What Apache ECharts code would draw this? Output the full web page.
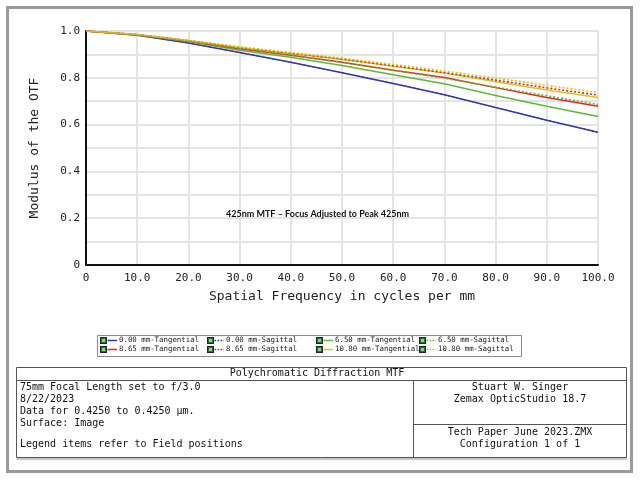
<!DOCTYPE html>
<html>
<head>
<meta charset="utf-8">
<script src="https://cdn.jsdelivr.net/npm/echarts@6/dist/echarts.min.js"></script>
<style>
html,body{margin:0;padding:0;background:#fff;}
#chart{width:640px;height:480px;}
</style>
</head>
<body>
<div id="chart"></div>
<script>
// ---- data ----
var freq = [0, 10, 20, 30, 40, 50, 60, 70, 80, 90, 100];
var names = ['0.00 mm-Tangential','0.00 mm-Sagittal','6.50 mm-Tangential','6.50 mm-Sagittal',
             '8.65 mm-Tangential','8.65 mm-Sagittal','10.80 mm-Tangential','10.80 mm-Sagittal'];
var t000 = [1.000, 0.982, 0.949, 0.908, 0.866, 0.822, 0.776, 0.728, 0.673, 0.619, 0.567];
var s000 = [1.000, 0.982, 0.949, 0.908, 0.866, 0.822, 0.776, 0.728, 0.673, 0.619, 0.567];
var t650 = [1.000, 0.983, 0.955, 0.918, 0.888, 0.853, 0.813, 0.775, 0.724, 0.678, 0.635];
var s650 = [1.000, 0.984, 0.958, 0.926, 0.897, 0.866, 0.832, 0.798, 0.760, 0.723, 0.686];
var t865 = [1.000, 0.984, 0.957, 0.924, 0.896, 0.866, 0.832, 0.801, 0.758, 0.716, 0.678];
var s865 = [1.000, 0.985, 0.959, 0.930, 0.905, 0.880, 0.852, 0.822, 0.790, 0.757, 0.726];
var t1080 = [1.000, 0.985, 0.958, 0.929, 0.904, 0.879, 0.849, 0.820, 0.783, 0.748, 0.716];
var s1080 = [1.000, 0.985, 0.960, 0.932, 0.908, 0.884, 0.857, 0.829, 0.799, 0.768, 0.737];
var seriesValues = [t000, s000, t650, s650, t865, s865, t1080, s1080];
var colors = ['#3636a4','#3636a4','#5cb83a','#5cb83a','#e8231e','#e8231e','#d6c622','#d6c622'];
var dotted = [false, true, false, true, false, true, false, true];
var zOrder = [3, 2, 3, 4, 3, 4, 3, 4];

var mono = '"DejaVu Sans Mono", "Liberation Mono", monospace';

function pairs(vals){ return freq.map(function(f,i){ return [f, vals[i]]; }); }

function iconFor(i){
  var dash = dotted[i] ? ' stroke-dasharray="1.5,1.5"' : '';
  var svg = '<svg xmlns="http://www.w3.org/2000/svg" width="17" height="7">' +
    '<rect x="0.5" y="0.5" width="6" height="6" fill="#2f6f2f" stroke="#1b2b1b" stroke-width="1"/>' +
    '<rect x="2" y="2" width="3" height="3" fill="#8fd08f"/>' +
    '<line x1="7.5" y1="3.5" x2="17" y2="3.5" stroke="' + colors[i] + '" stroke-width="1.5"' + dash + '/>' +
    '</svg>';
  return 'image://data:image/svg+xml;charset=utf-8,' + encodeURIComponent(svg);
}

var series = seriesValues.map(function(vals, i){
  return {
    name: names[i],
    type: 'line',
    data: pairs(vals),
    symbol: 'none',
    smooth: false,
    z: zOrder[i],
    lineStyle: { color: colors[i], width: i === 1 ? 1.0 : (dotted[i] ? 1.6 : 1.5), type: dotted[i] ? [2, 2] : 'solid' },
    itemStyle: { color: colors[i] }
  };
});

var colX = [100, 207, 316, 419];
var rowY = [337, 346];
var legends = names.map(function(n, i){
  var row = Math.floor(i / 4), col = i % 4;
  return {
    left: colX[col], top: rowY[row],
    padding: 0,
    itemWidth: 17, itemHeight: 7, itemGap: 0,
    selectedMode: false,
    data: [{ name: n, icon: iconFor(i) }],
    textStyle: { fontFamily: mono, fontSize: 7.4, color: '#222', padding: [0,0,0,-3] }
  };
});

var chart = echarts.init(document.getElementById('chart'), null, { renderer: 'canvas' });
chart.setOption({
  backgroundColor: '#ffffff',
  animation: false,
  grid: { left: 86, right: 42, top: 31, bottom: 215 },
  legend: legends,
  xAxis: {
    type: 'value', min: 0, max: 100, interval: 10,
    name: 'Spatial Frequency in cycles per mm',
    nameLocation: 'middle', nameGap: 25,
    nameTextStyle: { fontFamily: mono, fontSize: 13, color: '#222' },
    axisLine: { show: true, onZero: false, lineStyle: { color: '#111', width: 2 } },
    axisTick: { show: false },
    axisLabel: { fontFamily: mono, fontSize: 11, color: '#222', margin: 8,
      formatter: function(v){ return v === 0 ? '0' : v.toFixed(1); } },
    splitLine: { show: true, lineStyle: { color: '#e4e4e4', width: 2 } }
  },
  yAxis: {
    type: 'value', min: 0, max: 1, interval: 0.1,
    name: 'Modulus of the OTF',
    nameLocation: 'middle', nameGap: 45,
    nameTextStyle: { fontFamily: mono, fontSize: 13, color: '#222' },
    axisLine: { show: true, lineStyle: { color: '#111', width: 2 } },
    axisTick: { show: false },
    axisLabel: { fontFamily: mono, fontSize: 11, color: '#222', margin: 6,
      formatter: function(v){
        var k = Math.round(v * 10);
        if (k % 2 !== 0) return '';
        return k === 0 ? '0' : (k / 10).toFixed(1);
      } },
    splitLine: { show: true, lineStyle: { color: '#e4e4e4', width: 2 } }
  },
  graphic: [
    { type: 'rect', silent: true, z: -10, shape: { x: 7.5, y: 7.5, width: 624, height: 464 },
      style: { fill: 'none', stroke: '#9a9a9a', lineWidth: 3 } },
    { type: 'text', z: 10, left: 226, top: 210,
      style: { text: '425nm MTF \u2013 Focus Adjusted to Peak 425nm', fontFamily: 'Lato, "Liberation Sans", sans-serif',
        fontWeight: 'bold', fontSize: 9, fill: '#111' } },
    // legend frame
    { type: 'rect', silent: true, shape: { x: 97.5, y: 335.5, width: 424, height: 21 },
      style: { fill: 'none', stroke: '#8a8a8a', lineWidth: 1 } },
    // title table
    { type: 'rect', silent: true, shape: { x: 16.5, y: 367.5, width: 610, height: 90 },
      style: { fill: 'none', stroke: '#555', lineWidth: 1 } },
    { type: 'line', silent: true, shape: { x1: 16.5, y1: 380.5, x2: 626.5, y2: 380.5 },
      style: { stroke: '#555', lineWidth: 1 } },
    { type: 'line', silent: true, shape: { x1: 413.5, y1: 380.5, x2: 413.5, y2: 457.5 },
      style: { stroke: '#555', lineWidth: 1 } },
    { type: 'line', silent: true, shape: { x1: 413.5, y1: 424.5, x2: 626.5, y2: 424.5 },
      style: { stroke: '#555', lineWidth: 1 } },
    { type: 'line', silent: true, shape: { x1: 16.5, y1: 459, x2: 627, y2: 459 },
      style: { stroke: '#c8c8c8', lineWidth: 2 } },
    { type: 'text', x: 317, y: 368,
      style: { text: 'Polychromatic Diffraction MTF', fontFamily: mono, fontSize: 10, fill: '#111', align: 'center' } },
    { type: 'text', x: 20, y: 382,
      style: { text: '75mm Focal Length set to f/3.0\n8/22/2023\nData for 0.4250 to 0.4250 \u00b5m.\nSurface: Image',
        fontFamily: mono, fontSize: 10, lineHeight: 11.7, fill: '#111' } },
    { type: 'text', x: 20, y: 439,
      style: { text: 'Legend items refer to Field positions', fontFamily: mono, fontSize: 10, fill: '#111' } },
    { type: 'text', x: 520, y: 382,
      style: { text: 'Stuart W. Singer\nZemax OpticStudio 18.7', fontFamily: mono, fontSize: 10,
        lineHeight: 11.7, fill: '#111', align: 'center' } },
    { type: 'text', x: 520, y: 427,
      style: { text: 'Tech Paper June 2023.ZMX\nConfiguration 1 of 1', fontFamily: mono, fontSize: 10,
        lineHeight: 11.7, fill: '#111', align: 'center' } }
  ],
  series: series
});
</script>
</body>
</html>
